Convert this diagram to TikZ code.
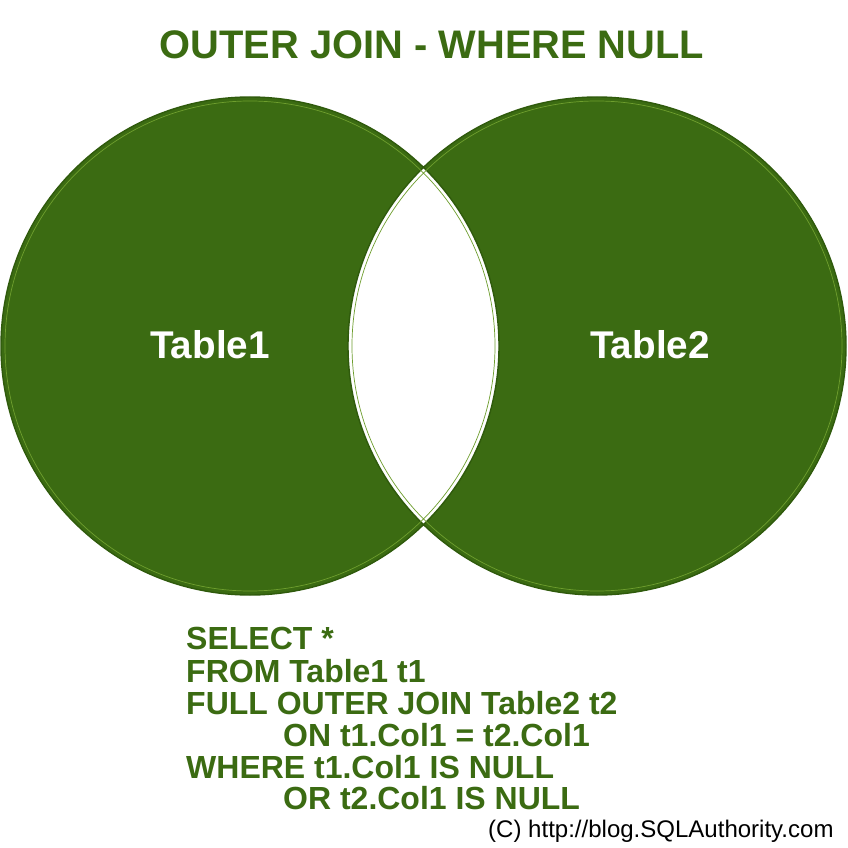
\documentclass[tikz,border=0pt]{standalone}
\usepackage{fontspec}
\setmainfont{Liberation Sans}
\definecolor{gr}{HTML}{3B6B12}
\definecolor{grd}{HTML}{2F5A0C}
\definecolor{grl}{HTML}{6E9E2E}
\begin{document}
\begin{tikzpicture}[x=0.03cm,y=-0.03cm,
  lbl/.style={font=\bfseries\fontsize{33}{38}\selectfont,text=white},
  sql/.style={font=\bfseries\fontsize{27.3}{29}\selectfont,text=gr,anchor=west,inner sep=0}]
\useasboundingbox (0,0) rectangle (848,848);
\fill[white] (0,0) rectangle (848,848);
\fill[gr,even odd rule] (250,346) circle (249) (597,346) circle (249);
\draw[grd,line width=1.2pt] (250,346) circle (249) (597,346) circle (249);
\draw[grl,line width=0.6pt] (250,346) circle (245) (597,346) circle (245);
\node[font=\bfseries\fontsize{34}{38}\selectfont,text=gr] (title) at (432,45) {OUTER JOIN - WHERE NULL};
\node[lbl] (t1) at (210,345) {Table1};
\node[lbl] (t2) at (650,345) {Table2};
\node[sql] (l1) at (186,638) {SELECT *};
\node[sql] (l2) at (186,671) {FROM Table1 t1};
\node[sql] (l3) at (186,703) {FULL OUTER JOIN Table2 t2};
\node[sql] (l4) at (283,735) {ON t1.Col1 = t2.Col1};
\node[sql] (l5) at (186,767) {WHERE t1.Col1 IS NULL};
\node[sql] (l6) at (283,798) {OR t2.Col1 IS NULL};
\node[font=\fontsize{20.5}{22}\selectfont,anchor=west,inner sep=0] (c) at (488,831) {(C) http://blog.SQLAuthority.com};
\end{tikzpicture}
\end{document}
